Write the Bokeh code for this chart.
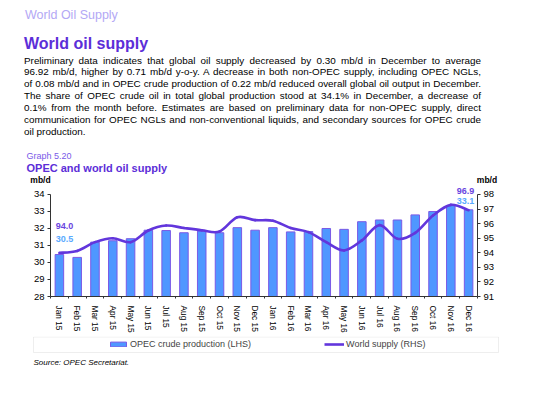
import numpy as np
from bokeh.plotting import figure
from bokeh.models import (Range1d, LinearAxis, Label, Legend, LegendItem,
                          BoxAnnotation, Div, FixedTicker)
from bokeh.layouts import column
from bokeh.embed import file_html
from bokeh.resources import INLINE

# ---------------- data ----------------
months = ["Jan 15", "Feb 15", "Mar 15", "Apr 15", "May 15", "Jun 15", "Jul 15", "Aug 15",
          "Sep 15", "Oct 15", "Nov 15", "Dec 15", "Jan 16", "Feb 16", "Mar 16", "Apr 16",
          "May 16", "Jun 16", "Jul 16", "Aug 16", "Sep 16", "Oct 16", "Nov 16", "Dec 16"]
opec_crude = [30.47, 30.30, 31.20, 31.28, 31.40, 31.90, 31.88, 31.75, 31.85, 31.75, 32.05, 31.90,
              32.05, 31.80, 31.82, 32.00, 31.95, 32.40, 32.50, 32.50, 32.80, 33.00, 33.35, 33.10]
world_supply = [94.00, 94.13, 94.73, 95.00, 94.73, 95.53, 95.87, 95.70, 95.55, 95.46, 96.44, 96.24,
                96.20, 95.70, 95.42, 94.73, 94.16, 94.85, 95.90, 94.96, 95.37, 96.56, 97.29, 96.92]
left_ticks = [28, 29, 30, 31, 32, 33, 34]
right_ticks = [91, 92, 93, 94, 95, 96, 97, 98]

header_text = "World Oil Supply"
section_title = "World oil supply"
paragraph_lines = [
    "Preliminary data indicates that global oil supply decreased by 0.30 mb/d in December to average",
    "96.92 mb/d, higher by 0.71 mb/d y-o-y. A decrease in both non-OPEC supply, including OPEC NGLs,",
    "of 0.08 mb/d and in OPEC crude production of 0.22 mb/d reduced overall global oil output in December.",
    "The share of OPEC crude oil in total global production stood at 34.1% in December, a decrease of",
    "0.1% from the month before. Estimates are based on preliminary data for non-OPEC supply, direct",
    "communication for OPEC NGLs and non-conventional liquids, and secondary sources for OPEC crude",
    "oil production.",
]
graph_no = "Graph 5.20"
chart_title = "OPEC and world oil supply"
unit = "mb/d"
source_text = "Source: OPEC Secretariat."
series_names = ["OPEC crude production (LHS)", "World supply (RHS)"]

FONT = "Liberation Sans"
CSS_FONT = "'Liberation Sans', Arial, Helvetica, sans-serif"
PURPLE = "#5c2ed8"
BAR_FILL = "#4f97ff"
BAR_LINE = "#7a5ae6"
LINE_COL = "#6236dc"
W = 550

# ---------------- header (HTML text, justified paragraph) ----------------
parts = [f'<div style="position:relative;width:{W}px;height:148px;font-family:{CSS_FONT};">']
parts.append(f'<div style="position:absolute;left:25px;top:8px;font-size:12.5px;line-height:14px;'
             f'color:#b3a8f5;white-space:nowrap;">{header_text}</div>')
parts.append(f'<div style="position:absolute;left:24px;top:34.5px;font-size:16px;line-height:18px;'
             f'font-weight:bold;color:{PURPLE};white-space:nowrap;">{section_title}</div>')
for i, ln in enumerate(paragraph_lines):
    last = i == len(paragraph_lines) - 1
    al = "left" if last else "justify"
    top = 54.5 + i * 11.95
    parts.append(f'<div style="position:absolute;left:24px;top:{top:.2f}px;width:457px;font-size:9.9px;'
                 f'line-height:12px;color:#000;text-align:{al};text-align-last:{al};">{ln}</div>')
parts.append('</div>')
header = Div(text="".join(parts), width=W, height=148, margin=(0, 0, 0, 0))

def blank_fig(h):
    f = figure(width=W, height=h, x_range=Range1d(0, W), y_range=Range1d(h, 0),
               output_backend="svg", toolbar_location=None, frame_align=False,
               min_border_left=0, min_border_right=0, min_border_top=0, min_border_bottom=0)
    f.axis.visible = False
    f.grid.visible = False
    f.outline_line_color = None
    return f

def text_label(f, text, x, y, size, color="#000000", bold=False, italic=False, align="left"):
    style = "bold" if bold else ("italic" if italic else "normal")
    f.add_layout(Label(x=x, y=y, text=text, text_font=FONT, text_font_size=size,
                       text_color=color, text_font_style=style, text_align=align,
                       text_baseline="middle"))

# ---------------- chart title strip ----------------
ptop = blank_fig(36)
text_label(ptop, graph_no, 26, 7.7, "9px", color="#7a5ae8")
text_label(ptop, chart_title, 26, 19.3, "11px", color=PURPLE, bold=True)
text_label(ptop, unit, 40, 31.2, "8.5px", bold=True, align="center")
text_label(ptop, unit, 486.5, 31.2, "8.5px", bold=True, align="center")

# ---------------- main chart ----------------
n = len(months)
xs = np.arange(n) + 0.5

p = figure(width=W, height=152, x_range=Range1d(0, n),
           y_range=Range1d(left_ticks[0], 34.588),
           output_backend="svg", toolbar_location=None, frame_align=False,
           min_border_left=50, min_border_right=73, min_border_top=0, min_border_bottom=40)
p.outline_line_color = None
p.xgrid.visible = False
p.ygrid.visible = False
p.extra_y_ranges = {"right": Range1d(right_ticks[0], 98.686)}

bars = p.vbar(x=xs, top=opec_crude, bottom=left_ticks[0], width=0.48,
              fill_color=BAR_FILL, line_color=BAR_LINE, line_width=1)

# smoothed world supply line (cubic Bezier through the monthly points)
ys = np.array(world_supply, dtype=float)
idx = np.arange(n - 1)
im1 = np.maximum(idx - 1, 0)
ip2 = np.minimum(idx + 2, n - 1)
x0, y0 = xs[idx], ys[idx]
x1, y1 = xs[idx + 1], ys[idx + 1]
cx0 = x0 + (xs[idx + 1] - xs[im1]) / 6.0
cy0 = y0 + (ys[idx + 1] - ys[im1]) / 6.0
cx1 = x1 - (xs[ip2] - xs[idx]) / 6.0
cy1 = y1 - (ys[ip2] - ys[idx]) / 6.0
p.bezier(x0=x0, y0=y0, x1=x1, y1=y1, cx0=cx0, cy0=cy0, cx1=cx1, cy1=cy1,
         y_range_name="right", line_color=LINE_COL, line_width=2.6, line_cap="round")

# axes
yl = p.yaxis[0]
yl.ticker = FixedTicker(ticks=left_ticks)
yl.bounds = (left_ticks[0], left_ticks[-1])
yr = LinearAxis(y_range_name="right", ticker=FixedTicker(ticks=right_ticks),
                bounds=(right_ticks[0], right_ticks[-1]))
p.add_layout(yr, "right")
for ax in (yl, yr):
    ax.major_tick_in = 0
    ax.major_tick_out = 3
    ax.minor_tick_line_color = None
    ax.axis_line_color = "#333333"
    ax.major_tick_line_color = "#333333"
    ax.major_label_text_font = FONT
    ax.major_label_text_font_size = "9.5px"
    ax.major_label_text_color = "#000000"
    ax.major_label_standoff = 3
xa = p.xaxis[0]
xa.ticker = FixedTicker(ticks=[float(v) for v in xs], minor_ticks=list(range(n + 1)))
xa.major_label_overrides = {float(v): m for v, m in zip(xs, months)}
xa.major_label_orientation = "vertical"
xa.major_tick_line_color = None
xa.minor_tick_in = 0
xa.minor_tick_out = 2
xa.minor_tick_line_color = "#333333"
xa.axis_line_color = "#333333"
xa.major_label_text_font = FONT
xa.major_label_text_font_size = "8.3px"
xa.major_label_text_color = "#000000"
xa.major_label_standoff = 3

# data labels for first and last months
for i, (dx, dy_line, dy_bar) in ((0, (5, 27, 16)), (n - 1, (-3, 19.7, 8.8))):
    p.add_layout(Label(x=xs[i], y=world_supply[i], y_range_name="right",
                       x_offset=dx, y_offset=dy_line, text=f"{world_supply[i]:.1f}",
                       text_font=FONT, text_font_size="9px", text_font_style="bold",
                       text_color="#6a45e0", text_align="center", text_baseline="middle"))
    p.add_layout(Label(x=xs[i], y=opec_crude[i],
                       x_offset=dx, y_offset=dy_bar, text=f"{opec_crude[i]:.1f}",
                       text_font=FONT, text_font_size="9px", text_font_style="bold",
                       text_color="#5aaaff", text_align="center", text_baseline="middle"))

# ---------------- legend + source strip ----------------
pbot = blank_fig(64)
pbot.add_layout(BoxAnnotation(left=33, right=498, top=0.5, bottom=16,
                              fill_alpha=0, line_color="#c8c8c8", line_width=1))
# legend swatch renderers (hidden in the strip, drawn only in the legend)
leg_bar = pbot.vbar(x=xs, top=opec_crude, bottom=left_ticks[0], width=0.48,
                    fill_color=BAR_FILL, line_color=BAR_LINE, line_width=1, visible=False)
leg_line = pbot.line(x=xs, y=world_supply, line_color=LINE_COL, line_width=2.6, visible=False)
legend = Legend(items=[LegendItem(label=series_names[0], renderers=[leg_bar]),
                       LegendItem(label=series_names[1], renderers=[leg_line])],
                orientation="horizontal", location=(108, 51), padding=0, margin=0,
                spacing=73, glyph_width=20, glyph_height=6, label_standoff=2,
                label_text_font=FONT, label_text_font_size="9px", label_height=9,
                border_line_alpha=0, background_fill_alpha=0,
                inactive_fill_alpha=0)
pbot.add_layout(legend, "center")
text_label(pbot, source_text, 33, 26, "8px", italic=True)

layout = column(header, ptop, p, pbot, spacing=0)
open("out.html", "w").write(file_html(layout, INLINE))
